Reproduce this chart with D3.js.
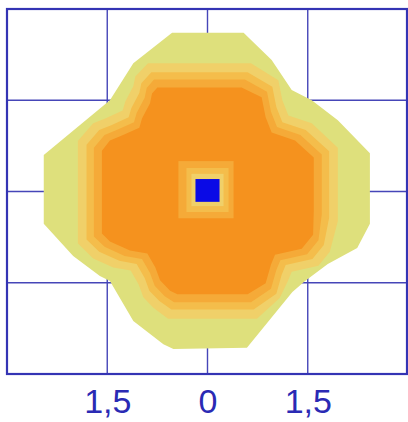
<!DOCTYPE html>
<html>
<head>
<meta charset="utf-8">
<script src="https://cdn.jsdelivr.net/npm/d3@7"></script>
<style>
  html, body { margin: 0; padding: 0; background: #fff; }
  svg { display: block; }
</style>
</head>
<body>
<div id="chart"></div>
<script>
// tick positions and their printed labels
const tickValues = [-1.5, 0, 1.5];
const tickLabels = ["1,5", "0", "1,5"];
const gridY = [-1.5, 0, 1.5];

// contour levels, outermost first (x, y in plot units)
const level0 = [
  [-0.53, 2.61], [0.54, 2.61], [0.96, 2.16], [1.26, 1.67], [1.56, 1.50],
  [1.95, 1.17], [2.43, 0.63], [2.43, -0.53], [2.24, -0.93], [1.80, -1.19],
  [1.46, -1.47], [1.27, -1.65], [0.59, -2.57], [-0.51, -2.59], [-0.66, -2.51],
  [-1.11, -2.13], [-1.46, -1.47], [-1.61, -1.39], [-2.01, -1.06], [-2.45, -0.53],
  [-2.45, 0.60], [-1.46, 1.50], [-1.11, 2.11]
];
const level1 = [
  [-0.89, 2.11], [0.65, 2.11], [1.06, 1.83], [1.12, 1.50], [1.21, 1.25],
  [1.56, 1.12], [1.95, 0.72], [1.95, -0.49], [1.83, -0.99], [1.66, -1.22],
  [1.26, -1.32], [1.20, -1.48], [1.08, -1.75], [0.74, -2.09], [-0.59, -2.09],
  [-0.81, -1.91], [-0.96, -1.74], [-1.03, -1.53], [-1.15, -1.30], [-1.41, -1.25],
  [-1.71, -1.10], [-1.94, -0.85], [-1.94, 0.83], [-1.71, 1.12], [-1.53, 1.20],
  [-1.27, 1.33], [-1.23, 1.48], [-1.11, 1.73], [-1.08, 1.89]
];
const level2 = [
  [-0.84, 1.96], [0.60, 1.96], [0.97, 1.72], [1.03, 1.39], [1.12, 1.14],
  [1.47, 1.01], [1.82, 0.66], [1.82, -0.43], [1.74, -0.88], [1.57, -1.11],
  [1.17, -1.21], [1.11, -1.37], [1.03, -1.68], [0.69, -1.94], [-0.54, -1.94],
  [-0.72, -1.80], [-0.87, -1.63], [-0.94, -1.42], [-1.06, -1.19], [-1.32, -1.14],
  [-1.62, -0.99], [-1.81, -0.79], [-1.81, 0.77], [-1.62, 1.01], [-1.44, 1.09],
  [-1.18, 1.22], [-1.14, 1.37], [-1.02, 1.62], [-0.99, 1.78]
];
const level3 = [
  [-0.80, 1.84], [0.56, 1.84], [0.89, 1.64], [0.95, 1.31], [1.04, 1.06],
  [1.39, 0.93], [1.71, 0.61], [1.71, -0.38], [1.66, -0.80], [1.49, -1.03],
  [1.09, -1.13], [1.03, -1.29], [0.95, -1.60], [0.65, -1.82], [-0.50, -1.82],
  [-0.64, -1.72], [-0.79, -1.55], [-0.86, -1.34], [-0.98, -1.11], [-1.24, -1.06],
  [-1.54, -0.91], [-1.70, -0.74], [-1.70, 0.72], [-1.54, 0.93], [-1.36, 1.01],
  [-1.10, 1.14], [-1.06, 1.29], [-0.94, 1.54], [-0.91, 1.70]
];
const level4 = [
  [-0.75, 1.71], [0.51, 1.71], [0.81, 1.55], [0.87, 1.22], [0.96, 0.97],
  [1.31, 0.84], [1.59, 0.56], [1.59, -0.33], [1.58, -0.71], [1.41, -0.94],
  [1.01, -1.04], [0.95, -1.20], [0.87, -1.51], [0.60, -1.69], [-0.45, -1.69],
  [-0.56, -1.63], [-0.71, -1.46], [-0.78, -1.25], [-0.90, -1.02], [-1.16, -0.97],
  [-1.46, -0.82], [-1.58, -0.69], [-1.58, 0.67], [-1.46, 0.84], [-1.28, 0.92],
  [-1.02, 1.05], [-0.98, 1.20], [-0.86, 1.45], [-0.83, 1.61]
];
// the hole in the middle: [x0, x1, y0, y1]
const hole3 = [-0.435, 0.39, -0.44, 0.50];
const hole2 = [-0.315, 0.315, -0.337, 0.386];
const hole1 = [-0.24, 0.24, -0.24, 0.29];
const core = [-0.18, 0.18, -0.17, 0.205];

const levelColors = ["#dee07c", "#f0d069", "#f4bd4b", "#f5aa38", "#f5921e"];
const coreColor = "#0a0ae6";

const width = 408;
const height = 422;

const svg = d3.select("#chart")
  .append("svg")
  .attr("width", width)
  .attr("height", height);

const x = d3.scaleLinear().domain([-3, 3]).range([7, 408]);
const y = d3.scaleLinear().domain([-3, 3]).range([374, 9]);

// grid first, contours are painted over it
svg.append("g")
  .selectAll("line.vx")
  .data(tickValues)
  .enter().append("line")
  .attr("x1", d => x(d)).attr("x2", d => x(d))
  .attr("y1", y(3)).attr("y2", y(-3))
  .attr("stroke", "#4646b8")
  .attr("stroke-width", 1.4);

svg.append("g")
  .selectAll("line.hy")
  .data(gridY)
  .enter().append("line")
  .attr("x1", x(-3)).attr("x2", x(3))
  .attr("y1", d => y(d)).attr("y2", d => y(d))
  .attr("stroke", "#4646b8")
  .attr("stroke-width", 1.4);

const line = d3.line()
  .x(d => x(d[0]))
  .y(d => y(d[1]))
  .curve(d3.curveLinearClosed);

svg.append("g")
  .selectAll("path")
  .data([level0, level1, level2, level3, level4])
  .enter().append("path")
  .attr("d", d => line(d))
  .attr("fill", (d, i) => levelColors[i]);

svg.append("g")
  .selectAll("rect")
  .data([hole3, hole2, hole1, core])
  .enter().append("rect")
  .attr("x", d => x(d[0]))
  .attr("y", d => y(d[3]))
  .attr("width", d => x(d[1]) - x(d[0]))
  .attr("height", d => y(d[2]) - y(d[3]))
  .attr("fill", (d, i) => i < 3 ? levelColors[3 - i] : coreColor);

// frame
svg.append("rect")
  .attr("x", x(-3))
  .attr("y", y(3))
  .attr("width", x(3) - x(-3) - 1)
  .attr("height", y(-3) - y(3))
  .attr("fill", "none")
  .attr("stroke", "#3434b4")
  .attr("stroke-width", 2.2);

const axis = d3.axisBottom(x)
  .tickValues(tickValues)
  .tickSize(0)
  .tickPadding(0)
  .tickFormat((d, i) => tickLabels[i]);

const gx = svg.append("g")
  .attr("transform", `translate(0,${y(-3)})`)
  .call(axis);

gx.select(".domain").remove();
gx.selectAll("text")
  .attr("dy", null)
  .attr("y", 39)
  .attr("fill", "#2a2ab4")
  .style("font-family", "'Liberation Sans', Arial, sans-serif")
  .style("font-size", "34px");
</script>
</body>
</html>
